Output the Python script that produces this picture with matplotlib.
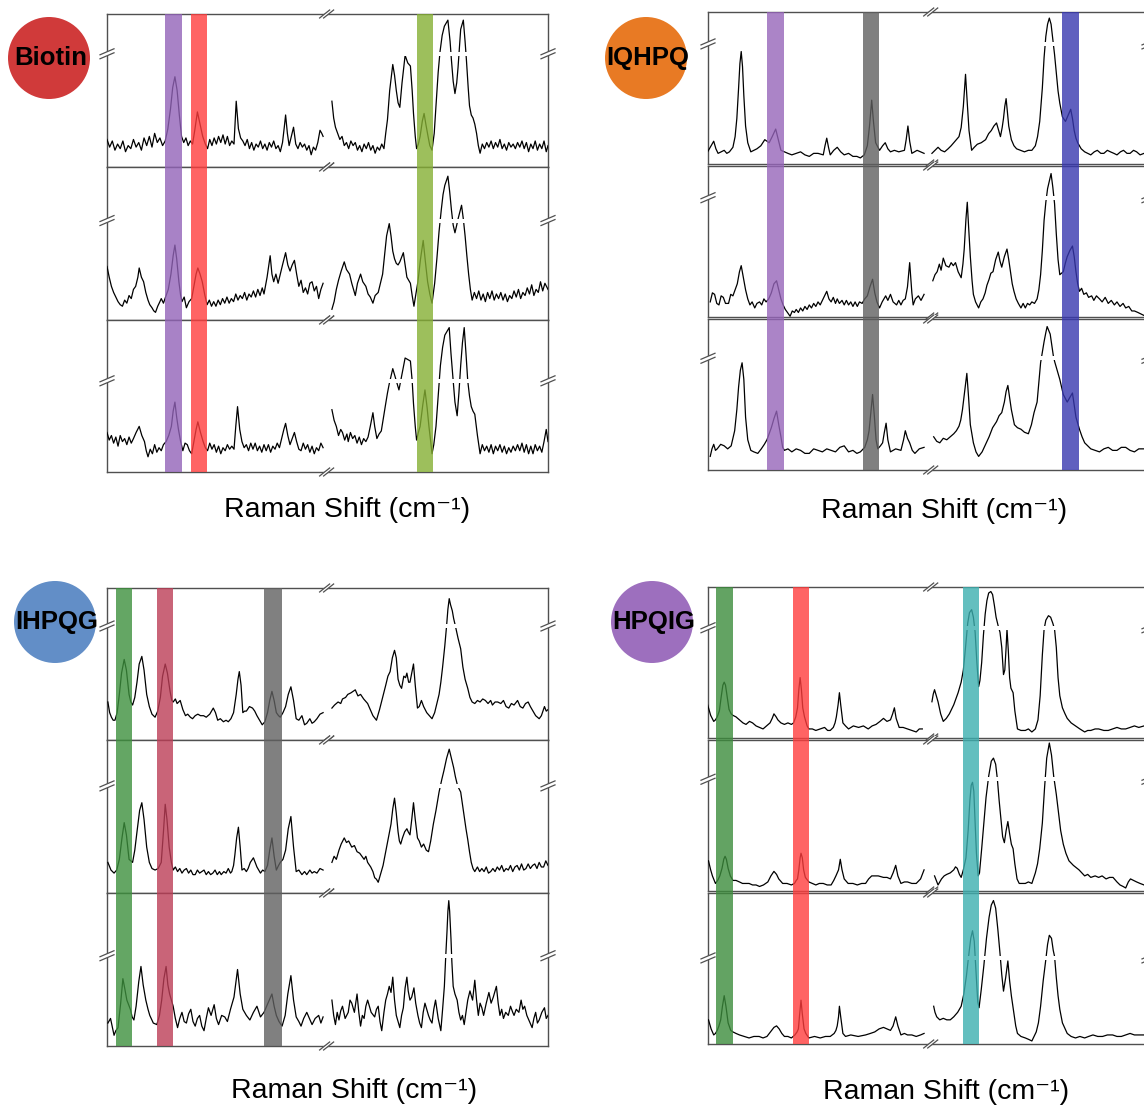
import matplotlib
matplotlib.use("Agg")
import matplotlib.pyplot as plt
import numpy as np
from matplotlib.patches import Ellipse, Rectangle

FIG_W, FIG_H = 1144, 1111

# spectra: (position across the box, intensity 0-100 of its row)
BIOTIN_TOP = [(0,18),(0.6,13),(1.2,17),(1.8,11),(2.4,15),(3,12),(3.6,17),(4.2,10),(4.8,14),(5.4,12),(6,18),(6.6,13),(7.2,16),(7.8,11),(8.4,19),(9,14),(9.6,20),(10.2,13),(10.8,22),(11.4,16),(12,19),(12.6,14),(13.2,17),
              (13.8,25),(14.4,38),(14.9,52),(15.4,59),(15.9,50),(16.4,34),(16.9,20),(17.4,16),(17.9,19),(18.4,14),(18.9,17),(19.4,15),(19.9,24),(20.5,36),(21.1,28),(21.7,20),(22.3,15),(22.8,12),
              (23.3,18),(23.8,14),(24.3,19),(24.8,15),(25.3,20),(25.8,16),(26.3,21),(26.8,15),(27.3,20),(27.8,14),(28.3,17),(28.8,15),(29.3,43),(29.8,25),(30.3,19),(30.8,17),(31.3,14),(31.8,18),(32.3,12),(32.8,16),(33.3,11),(33.8,15),(34.3,13),(34.8,17),(35.3,12),(35.8,15),(36.3,11),(36.8,16),(37.3,13),(37.8,17),(38.3,12),(38.8,14),(39.3,10),(39.8,16),
              (40.2,26),(40.5,34),(40.9,22),(41.3,14),(41.8,20),(42.3,26),(42.8,15),(43.3,12),(43.8,16),(44.3,13),(44.8,15),(45.3,11),(45.8,14),(46.3,8),(46.8,13),(47.3,11),(47.8,16),(48.3,24),(48.7,22),(49,20),
              (51,43),(51.4,32),(51.8,26),(52.3,22),(52.8,18),(53.3,20),(53.8,14),(54.3,16),(54.8,12),(55.3,17),(55.8,14),(56.3,16),(56.8,11),(57.3,14),(57.8,10),(58.3,15),(58.8,12),(59.3,16),(59.8,11),(60.3,14),(60.8,9),(61.3,13),(61.8,11),(62.3,15),(62.8,12),
              (63.2,22),(63.6,31),(64.1,50),(64.8,67),(65.2,60),(65.6,50),(66,42),(66.4,39),(66.9,55),(67.6,73),(68.2,68),(68.8,66),(69.2,50),(69.5,35),(69.9,20),(70.2,12),(70.6,15),(71,20),(71.5,30),(71.9,35),(72.3,28),(72.8,20),(73.2,14),(73.7,11),
              (74.2,22),(74.6,40),(75.1,62),(75.5,75),(76,86),(76.5,92),(77.3,96),(77.8,82),(78.1,70),(78.5,56),(78.9,48),(79.3,55),(79.6,65),(80.2,90),(80.8,96),(81.2,82),(81.5,70),(81.9,52),(82.2,40),(82.6,34),(83,32),(83.4,28),(83.8,22),(84.2,14),(84.6,9),
              (85.1,15),(85.6,12),(86.1,16),(86.6,13),(87.1,17),(87.6,12),(88.1,16),(88.6,13),(89.1,18),(89.6,12),(90.1,15),(90.6,11),(91.1,16),(91.6,13),(92.1,15),(92.6,12),(93.1,16),(93.6,13),(94.1,17),(94.6,12),(95.1,16),(95.6,10),(96.1,15),(96.6,12),(97.1,17),(97.6,11),(98.1,15),(98.6,12),(99.1,17),(99.6,10),(100,14)]
BIOTIN_MID = [(0,35),(0.5,28),(1,22),(1.5,18),(2,15),(2.5,12),(3,10),(3.5,9),(4,13),(4.5,11),(5,16),(5.5,14),(6,20),(6.5,22),(7,28),(7.3,34),(7.8,28),(8.3,25),(8.8,18),(9.3,13),(9.7,10),(10.2,8),(10.6,6),(11,5),(11.5,9),(12,12),(12.3,14),(12.8,11),(13.4,16),(13.9,20),(14.5,30),(15,42),(15.4,49),(15.8,40),(16.3,25),(16.7,16),(17,12),(17.5,15),(18,8),(18.6,12),(19.2,14),(19.7,22),(20.2,30),(20.6,34),(21.1,30),(21.6,25),(22.2,16),(22.7,10),
              (23.2,13),(23.7,9),(24.2,12),(24.7,9),(25.2,13),(25.7,10),(26.2,14),(26.7,11),(27.2,15),(27.7,11),(28.2,14),(28.7,12),(29.2,17),(29.7,13),(30.2,16),(30.7,14),(31.2,18),(31.7,13),(32.2,17),(32.7,15),(33.2,19),(33.7,15),(34.2,20),(34.7,16),(35.2,21),(35.6,17),(36.3,28),(37,42),(37.4,30),(37.8,25),(38.3,30),(38.8,24),(39.3,30),(39.8,36),(40.5,44),(41,36),(41.5,32),(42,36),(42.5,39),(43,30),(43.5,22),(44,26),(44.5,18),(45,21),(45.5,17),(46,24),(46.5,25),(47,19),(47.5,22),(48,14),(48.5,20),(49,24),
              (51,7),(51.5,12),(52,20),(52.5,26),(53.1,32),(53.8,38),(54.3,33),(55,30),(55.5,24),(56,19),(56.3,16),(56.8,24),(57.5,30),(58,25),(58.7,22),(59.2,17),(59.7,15),(60.3,11),(60.8,16),(61.5,18),(62,24),(62.5,30),(63,44),(63.4,55),(64,63),(64.4,55),(64.8,45),(65.2,40),(65.6,37),(66,36),(66.4,38),(67.2,44),(67.6,36),(68,28),(68.4,26),(68.8,24),(69.2,16),(69.6,9),(70.1,18),(70.5,25),(71.1,40),(71.7,52),(72.2,38),(72.7,25),(73.2,17),(73.7,11),
              (74.3,24),(74.8,40),(75.3,58),(75.8,72),(76.2,82),(76.6,88),(77.3,94),(77.7,84),(78.1,72),(78.5,62),(78.9,57),(79.3,62),(79.6,66),(80.4,75),(80.8,66),(81.2,55),(81.6,42),(82,30),(82.4,20),(82.8,13),
              (83.3,18),(83.8,14),(84.3,19),(84.8,13),(85.3,17),(85.8,12),(86.3,18),(86.8,14),(87.3,19),(87.8,13),(88.3,17),(88.8,14),(89.3,18),(89.8,13),(90.3,17),(90.8,12),(91.3,16),(91.8,14),(92.3,19),(92.8,15),(93.3,20),(93.8,14),(94.3,18),(94.8,16),(95.3,21),(95.8,17),(96.3,23),(96.8,16),(97.3,20),(97.8,18),(98.3,25),(98.8,19),(99.3,24),(100,20)]
BIOTIN_BOT = [(0,26),(0.5,21),(1,24),(1.5,19),(2,23),(2.5,17),(3,24),(3.5,20),(4,22),(4.5,18),(5,23),(5.5,19),(6,22),(6.6,26),(7.3,30),(7.9,24),(8.5,20),(8.9,14),(9.3,10),(9.8,15),(10.3,12),(10.8,18),(11.3,13),(11.8,16),(12.3,14),(12.8,18),(13.4,20),(14,24),(14.6,30),(15,40),(15.4,46),(15.8,36),(16.2,28),(16.7,20),(17.2,14),(17.7,19),(18.2,18),(18.7,14),(19.2,12),(19.7,20),(20.2,28),(20.6,33),(21.2,26),(21.8,20),(22.3,16),(22.8,14),
              (23.3,19),(23.8,15),(24.3,18),(24.8,13),(25.3,17),(25.8,12),(26.3,16),(26.8,14),(27.3,18),(27.8,15),(28.3,17),(28.8,15),(29.2,30),(29.6,43),(30.1,28),(30.6,20),(31.1,16),(31.6,18),(32.1,14),(32.6,19),(33.1,15),(33.6,19),(34.1,14),(34.6,17),(35.1,13),(35.6,18),(36.1,14),(36.6,18),(37.1,13),(37.6,17),(38.1,15),(38.6,19),(39.1,16),(39.6,22),(40.1,28),(40.5,32),(41,24),(41.5,18),(42,22),(42.5,26),(43,20),(43.5,15),(44,14),(44.5,19),(45,15),(45.5,18),(46,13),(46.5,17),(47,12),(47.5,16),(48,14),(48.5,19),(49,16),
              (51,41),(51.5,34),(52,30),(52.5,24),(53,28),(53.4,26),(53.9,21),(54.4,25),(54.7,20),(55.2,26),(55.7,22),(56.2,24),(56.7,19),(57.2,23),(57.7,18),(58.2,22),(58.7,20),(59.2,23),(59.7,30),(60.3,39),(60.7,30),(61.2,22),(61.7,25),(62.2,27),(62.7,36),(63.2,45),(63.6,52),(64,58),(64.8,68),(65.2,64),(65.6,60),(66.2,54),(66.6,60),(67,66),(67.6,75),(68.2,74),(68.8,73),(69.2,60),(69.5,45),(69.9,30),(70.2,21),(70.6,26),(71,30),(71.6,44),(72.1,54),(72.6,42),(73,30),(73.4,20),(73.7,12),
              (74.1,18),(74.6,30),(75.1,50),(75.6,70),(76.1,82),(76.6,90),(77.6,95),(78,78),(78.5,60),(78.9,46),(79.4,37),(79.8,52),(80.2,70),(80.6,85),(81,95),(81.4,78),(81.8,60),(82.2,50),(82.6,43),(83,40),(83.4,38),(84,24),(84.6,12),
              (85.1,18),(85.6,14),(86.1,17),(86.6,13),(87.1,18),(87.6,12),(88.1,17),(88.6,14),(89.1,18),(89.6,13),(90.1,17),(90.6,12),(91.1,16),(91.6,13),(92.1,17),(92.6,14),(93.1,18),(93.6,14),(94.1,19),(94.6,13),(95.1,18),(95.6,12),(96.1,17),(96.6,12),(97.1,18),(97.6,14),(98.1,17),(98.6,13),(99.1,20),(99.6,28),(100,20)]

IQHPQ_TOP = [(0.2,8),(1,12),(1.6,15),(2.1,10),(2.6,7),(3.3,8),(4,9),(4.6,7),(5.2,8),(6,11),(6.5,18),(6.9,30),(7.3,50),(7.6,66),(7.9,74),(8.2,64),(8.5,45),(8.9,25),(9.4,14),(10.1,8),(10.8,9),(11.5,10),(12.4,12),(13.3,16),(14.3,14),(15,18),(15.8,23),(16.4,16),(17,9),(17.8,8),(18.6,7),(19.5,6),(20.5,7),(21.5,8),(22.5,6),(23.5,5),(24.5,7),(25.5,7),(26.7,6),(27.1,12),(27.5,17),(27.9,11),(28.3,6),(29.1,9),(29.9,11),(30.7,8),(31.5,6),(32.5,7),(33.5,5),(34.4,5),(35.2,4),(36.1,6),(36.8,12),(37.3,25),(37.8,42),(38.2,28),(38.7,14),(39.6,9),(40.3,12),(40.9,14),(41.5,10),(42.1,8),(43,9),(44,8),(45.3,9),(45.7,16),(46.1,25),(46.5,15),(47,7),(48.2,9),(49,8),(49.8,7),
             (51.6,7),(52.3,9),(53,11),(53.7,9),(54.5,8),(55.3,10),(56,12),(56.9,15),(57.8,18),(58.3,24),(58.8,38),(59.3,59),(59.7,40),(60.1,22),(60.7,9),(61.3,11),(62,13),(62.9,14),(63.9,16),(64.6,20),(65.2,22),(65.8,25),(66.4,27),(66.9,22),(67.3,18),(67.7,24),(68,30),(68.3,38),(68.6,43),(68.9,34),(69.2,25),(69.8,16),(70.4,12),(71,10),(71.9,9),(72.8,8),(73.7,9),(74.5,9),(75.3,12),(75.8,18),(76.3,28),(76.9,50),(77.3,70),(77.7,84),(78.1,92),(78.5,96),(78.9,92),(79.3,82),(79.7,72),(80.1,60),(80.5,48),(80.9,40),(81.5,31),(82.2,28),(82.8,32),(83.4,36),(83.8,30),(84.2,22),(84.6,17),(85,14),(85.8,10),(86.6,8),(87.3,7),(88,6),(88.8,8),(89.5,9),(90.3,7),(91,7),(91.8,9),(92.5,8),(93.3,7),(94,6),(94.8,8),(95.5,9),(96.3,7),(97,7),(97.8,9),(98.5,8),(99.3,6),(100.2,7)]
IQHPQ_MID = [(0.8,10),(1.3,16),(1.8,15),(2.3,9),(2.8,8),(3.3,14),(3.8,13),(4.3,9),(5,9),(5.5,15),(6,14),(6.5,18),(7,22),(7.5,30),(7.9,34),(8.4,26),(8.9,18),(9.4,12),(9.9,8),(10.4,10),(11,6),(11.5,9),(12.1,10),(12.6,8),(13.1,12),(13.6,10),(14.2,12),(14.8,16),(15.4,22),(16,24),(16.5,18),(17,12),(17.5,8),(18,5),(18.5,3),(19.1,0.5),(19.6,4),(20.1,3),(20.5,5),(21,3),(21.5,6),(22,4),(22.5,7),(23,5),(23.5,8),(24,6),(24.5,9),(25,7),(25.5,10),(26,8),(26.5,11),(27,14),(27.5,17),(28,12),(28.5,10),(29,13),(29.5,9),(29.9,12),(30.4,9),(31,11),(31.5,8),(32,11),(32.5,8),(33,10),(33.5,7),(34,10),(34.5,7),(35,10),(35.6,9),(36.2,12),(36.8,14),(37.4,20),(38,25),(38.5,16),(39,10),(39.6,6),(40.2,10),(41,14),(41.5,11),(42.1,15),(42.7,10),(43.5,8),(44,11),(44.5,8),(45,11),(45.5,12),(46,20),(46.5,36),(47,16),(47.3,8),(47.8,12),(48.5,14),(49.1,11),(49.8,15),
             (51.8,24),(52.3,28),(52.8,30),(53.3,35),(53.7,31),(54.2,39),(54.8,34),(55.5,33),(56,36),(56.5,34),(57,36),(57.6,30),(58.3,26),(58.7,35),(59,45),(59.4,65),(59.7,76),(60,60),(60.4,40),(60.8,24),(61.1,15),(61.6,10),(62.3,6),(62.8,10),(63.3,12),(63.8,16),(64.2,21),(64.7,25),(65.1,29),(65.6,30),(66.2,38),(66.8,43),(67.2,37),(67.6,33),(68.2,40),(68.8,45),(69.2,38),(69.6,30),(70,22),(70.4,17),(70.9,12),(71.4,9),(72,6),(72.5,9),(73,6),(73.5,9),(74,8),(74.5,10),(75.1,9),(75.7,12),(76.1,18),(76.5,28),(76.9,44),(77.3,64),(77.7,76),(78.1,85),(78.9,95),(79.3,86),(79.7,75),(80.1,55),(80.5,38),(80.9,28),(81.3,29),(81.7,30),(82.2,36),(82.6,40),(83.2,44),(83.8,47),(84.2,40),(84.6,30),(85,22),(85.4,17),
             (85.9,19),(86.4,15),(87,16),(87.5,13),(88.2,14),(88.7,11),(89.3,14),(90,12),(90.6,10),(91.3,13),(92,9),(92.7,11),(93.4,8),(94,10),(94.7,7),(95.4,9),(96,6),(96.7,7),(97.4,4),(98,4),(98.8,3),(99.5,2),(100.2,1)]
IQHPQ_BOT = [(0.8,9),(1.2,14),(1.6,17),(2,13),(2.4,14),(3.2,17),(4,16),(4.8,14),(5.6,16),(6.4,26),(6.9,40),(7.3,55),(7.7,66),(8.1,71),(8.5,60),(8.9,35),(9.4,20),(10.1,13),(10.8,12),(11.7,11),(12.5,14),(13.2,17),(13.8,20),(14.3,24),(14.8,28),(15.4,34),(16,39),(16.5,30),(17,22),(17.4,15),(17.8,13),(18.6,14),(19.5,12),(20.5,14),(21.5,13),(22.5,11),(23.5,11),(24.5,14),(25.5,13),(26.5,12),(27.5,14),(28.5,13),(29.5,12),(30.5,15),(31.5,16),(32.5,12),(33.5,13),(34.4,11),(35.2,12),(36.2,15),(36.8,20),(37.2,26),(37.6,38),(38,50),(38.4,36),(38.8,20),(39.2,14),(39.8,16),(40.3,18),(40.7,25),(41.1,31),(41.5,20),(42.1,12),(43.3,14),(44.5,13),(45.1,20),(45.5,26),(46,21),(46.5,18),(47.1,13),(47.7,11),(48.7,14),(49.8,15),
             (52,22),(52.7,19),(53.4,18),(54.2,21),(55,20),(55.8,22),(56.6,24),(57.2,26),(57.8,29),(58.2,33),(58.6,40),(59.1,52),(59.6,64),(60,48),(60.4,30),(61.1,18),(61.7,12),(62.3,9),(63.1,12),(63.9,17),(64.7,22),(65.5,28),(66.4,32),(67,36),(67.6,38),(68.2,45),(68.6,52),(69,56),(69.4,48),(69.8,40),(70.5,30),(71.2,28),(72,27),(72.8,25),(73.7,24),(74.4,30),(75,38),(75.7,45),(76.1,58),(76.5,71),(76.9,78),(77.3,85),(77.7,91),(78,95),(78.7,90),(79.4,76),(79.7,72),(80.3,66),(80.9,60),(81.7,50),(82.6,45),(83.2,48),(83.8,51),(84.2,43),(84.6,35),(85.4,27),(86,22),(86.6,18),(87.3,16),(88,14),(89,13),(90,12),(91,14),(92,15),(93,13),(94,13),(95,15),(96,15),(97,13),(98,12),(99,14),(100.2,14)]

IHPQG_TOP = [(0.2,25),(0.6,18),(1,15),(1.4,13),(1.8,13),(2.3,18),(2.8,30),(3.3,44),(3.9,53),(4.4,46),(5,30),(5.4,25),(5.8,23),(6.3,28),(6.8,38),(7.3,50),(7.9,55),(8.4,46),(9,30),(9.6,22),(10.2,17),(10.9,15),(11.5,19),(12.1,28),(12.6,42),(13.2,50),(13.7,44),(14.3,32),(14.7,26),(15,25),(15.5,27),(15.9,24),(16.6,26),(17.2,20),(17.8,16),(18.3,17),(18.9,15),(19.4,14),(20,16),(20.6,17),(21.2,16),(21.9,16),(22.5,15),(23.3,17),(24.1,21),(24.6,18),(25.1,13),(25.7,14),(26.4,12),(27,13),(27.5,12),(28.1,14),(28.7,18),(29.3,30),(29.7,40),(30,45),(30.4,36),(30.8,18),(31.2,19),(31.6,19),(32.3,22),(33,21),(33.5,19),(34,16),(34.6,13),(35.2,10),(35.8,12),(36.4,18),(36.9,26),(37.4,32),(37.9,26),(38.4,18),(38.9,16),(39.3,15),(39.9,18),(40.5,22),(41.1,30),(41.7,35),(42.3,26),(42.9,14),(43.5,13),(44.2,16),(44.8,10),(45.3,11),(46,14),(46.5,11),(47,12),(47.6,14),(48.3,17),(49,18),
             (51,21),(51.6,23),(52.4,25),(53,24),(53.4,27),(54.1,28),(54.6,30),(55.3,31),(56.3,33),(56.9,29),(57.5,30),(58.2,27),(59.1,24),(59.7,20),(60.3,16),(61.1,13),(61.8,20),(62.5,28),(63.2,36),(63.7,42),(64.2,45),(64.7,54),(65.2,59),(65.6,54),(66,40),(66.4,36),(66.8,34),(67.3,42),(67.7,41),(68,44),(68.4,38),(68.7,38),(69.1,44),(69.5,50),(69.9,36),(70.4,21),(70.8,22),(71.3,26),(71.8,22),(72.5,18),(73.1,16),(73.7,14),(74.3,18),(74.8,24),(75.3,30),(75.7,38),(76.1,48),(76.6,62),(77,75),(77.3,86),(77.6,93),(77.9,89),(78.3,85),(78.6,80),(79,75),(79.6,67),(80.2,60),(80.7,48),(81.2,40),(81.8,34),(82.3,28),(82.8,25),(83.4,24),(84,26),(84.6,25),(85.2,27),(85.8,26),(86.4,24),(87,26),(87.4,23),(88,25),(88.6,25),(89.3,24),(89.9,26),(90.5,22),(91.1,21),(91.7,24),(92.3,23),(93.1,26),(93.7,22),(94.3,21),(94.9,24),(95.5,25),(96,22),(96.6,19),(97.2,16),(97.6,15),(98,14),(98.5,16),(99.2,22),(99.6,19),(100,20)]
IHPQG_MID = [(0.2,20),(0.9,15),(1.6,13),(2.2,15),(2.8,22),(3.4,36),(3.9,46),(4.4,38),(5,22),(5.8,20),(6.3,28),(6.8,40),(7.4,54),(7.9,59),(8.4,48),(9,30),(9.6,20),(10.2,16),(10.9,15),(11.6,16),(12.3,20),(12.8,40),(13.2,58),(13.6,48),(14.1,30),(14.6,20),(15,15),(15.5,17),(16,14),(16.5,16),(17,13),(17.5,15),(18,16),(18.5,13),(19,15),(19.5,12),(20,12),(20.5,15),(21,13),(21.5,14),(22,15),(22.5,12),(23,14),(23.5,12),(24,13),(24.5,15),(25,12),(25.5,14),(25.9,12),(26.5,14),(27,13),(27.5,16),(28,13),(28.3,14),(28.7,18),(29,25),(29.4,36),(29.8,43),(30.2,30),(30.6,15),(31.1,16),(31.6,14),(32,16),(32.5,20),(33.2,23),(34,17),(34.8,13),(35.3,15),(35.8,14),(36.4,18),(36.9,28),(37.4,36),(37.9,24),(38.4,15),(38.9,18),(39.3,20),(39.9,22),(40.5,28),(41.1,42),(41.7,50),(42.3,30),(42.9,14),(43.5,15),(44.2,12),(44.8,14),(45.3,12),(46,15),(46.5,13),(47,14),(47.6,13),(48.3,16),(49,15),
             (51,20),(51.5,24),(52,22),(52.6,28),(53.1,32),(53.8,36),(54.3,33),(54.8,34),(55.5,30),(56.1,31),(56.7,27),(57.3,26),(57.8,24),(58.3,22),(58.7,24),(59.1,20),(59.8,17),(60.3,14),(60.7,10),(61.1,9),(61.5,7),(62,12),(62.6,18),(63.2,27),(63.8,36),(64.4,45),(64.8,55),(65.2,62),(65.6,52),(66,40),(66.3,34),(66.6,32),(67,36),(67.5,40),(68,42),(68.3,40),(68.7,38),(69.1,48),(69.5,59),(69.9,48),(70.4,36),(70.8,34),(71.3,30),(71.8,32),(72.4,28),(72.9,27),(73.4,34),(74,45),(74.6,54),(75.3,66),(75.9,74),(76.4,80),(77,88),(77.6,94),(78.1,88),(78.6,82),(79,76),(79.5,70),(80.2,66),(80.6,58),(81,50),(81.4,42),(81.8,35),(82.2,27),(82.6,20),(83,16),(83.4,14),(84,17),(84.5,14),(85,16),(85.5,14),(86,17),(86.5,13),(87,14),(87.5,16),(88,14),(88.5,17),(89,15),(89.5,18),(90,14),(90.5,16),(91,15),(91.5,18),(92,14),(92.5,17),(93,18),(93.5,15),(94,19),(94.5,15),(95,16),(95.5,19),(96,16),(96.5,18),(97,19),(97.5,16),(98,20),(98.5,17),(99,17),(99.5,21),(100,18)]
IHPQG_BOT = [(0.2,15),(0.8,18),(1.6,7),(2,10),(2.5,12),(3.1,28),(3.6,44),(4,38),(4.5,30),(5.3,24),(5.7,19),(6.1,17),(6.6,26),(7.2,42),(7.7,52),(8.2,40),(8.8,30),(9.3,24),(9.7,20),(10.5,15),(11.3,14),(11.9,20),(12.4,30),(12.9,44),(13.4,52),(13.8,40),(14.2,34),(14.6,30),(15,26),(15.5,18),(16,12),(16.5,18),(17,22),(17.5,16),(18,15),(18.5,21),(19,24),(19.5,16),(20,13),(20.5,18),(21,20),(21.5,13),(22,10),(22.5,18),(23,25),(23.6,20),(24.3,27),(24.8,18),(25.3,14),(26,20),(26.7,19),(27.3,16),(28,24),(28.8,32),(29.6,50),(30.2,34),(30.8,24),(31.6,20),(32.4,17),(33.2,22),(34,26),(34.8,19),(35.6,22),(36.5,28),(37.4,34),(37.9,26),(38.4,20),(39,16),(39.7,13),(40.4,20),(41,34),(41.7,46),(42.3,30),(42.9,19),(43.5,16),(44,13),(44.6,18),(45.3,22),(45.9,18),(46.5,14),(47.2,18),(48,20),(48.5,15),(49,19),
             (51,30),(51.4,20),(51.8,14),(52.2,22),(52.6,17),(53,23),(53.4,26),(54,18),(54.7,22),(55.1,30),(55.5,28),(56.1,22),(56.7,34),(57.1,22),(57.5,13),(57.9,20),(58.3,18),(58.7,26),(59.1,30),(59.9,22),(60.7,19),(61.1,24),(61.5,26),(61.9,16),(62.3,10),(62.8,22),(63.2,30),(63.6,34),(64,39),(64.4,35),(64.8,45),(65.2,30),(65.6,20),(66,16),(66.4,12),(66.8,20),(67.2,25),(67.6,38),(68,45),(68.3,36),(68.7,30),(69.1,32),(69.6,38),(70,28),(70.5,20),(70.9,15),(71.3,12),(71.7,22),(72.1,28),(72.5,24),(72.9,20),(73.3,17),(73.7,15),(74.1,24),(74.5,30),(75.1,18),(75.7,10),(76.1,24),(76.5,39),(76.8,58),(77.1,75),(77.3,88),(77.5,95),(77.7,88),(78,70),(78.2,55),(78.5,39),(78.9,34),(79.4,30),(79.8,22),(80.2,17),(80.6,20),(81,14),(81.4,22),(81.8,30),(82.3,36),(82.9,30),(83.4,43),(83.8,30),(84.2,20),(84.6,28),(85,25),(85.4,20),(86,28),(86.6,35),(87.1,28),(87.6,32),(88.3,39),(88.7,28),(89.1,20),(89.5,24),(89.9,18),(90.4,22),(91,20),(91.5,26),(92,22),(92.3,20),(92.8,24),(93.4,22),(93.9,30),(94.3,24),(94.7,26),(95.2,20),(95.8,16),(96.4,12),(96.8,18),(97.2,22),(97.6,15),(98,17),(98.6,22),(99.2,25),(99.6,18),(100,20)]

HPQIG_TOP = [(0.2,22),(0.9,15),(1.6,11),(2,12),(2.4,14),(2.9,18),(3.3,27),(3.7,35),(4,37),(4.3,35),(4.7,27),(5.1,19),(5.6,16),(6,15),(6.7,14),(7.5,12),(8.3,10),(9,9),(9.8,11),(10.5,10),(11.3,8),(12.1,7),(12.9,6),(13.7,8),(14.5,10),(15,13),(15.4,16),(15.9,14),(16.3,12),(17,10),(17.8,9),(18.6,10),(19.4,9),(19.9,10),(20.4,14),(20.8,20),(21.1,32),(21.4,40),(21.7,32),(22,20),(22.4,14),(23,8),(23.4,6),(24.2,6),(25,5),(26,6),(27,7),(27.7,5),(28.3,5),(29,7),(29.4,10),(29.7,14),(30.1,22),(30.4,30),(30.7,22),(31.2,10),(31.8,8),(32.5,6),(33.6,8),(34.8,7),(35.9,8),(37,6),(37.9,8),(38.8,9),(39.7,11),(40.5,13),(41.3,11),(42.1,12),(42.6,16),(43,20),(43.4,13),(44.1,7),(45,7),(46,6),(47,5),(48,4),(48.7,6),(49.4,6),
             (51.6,24),(51.9,29),(52.2,32),(52.6,28),(53,24),(53.6,16),(54.2,11),(54.9,13),(55.6,16),(56.1,19),(56.6,22),(57.1,26),(57.6,30),(58.3,37),(58.8,45),(59.3,60),(59.8,76),(60.2,83),(60.7,85),(61.1,80),(61.5,70),(61.9,50),(62.3,34),(62.6,38),(63,50),(63.4,68),(63.8,82),(64.2,91),(64.6,96),(65.1,97),(65.5,95),(65.9,88),(66.3,80),(66.8,74),(67.2,70),(67.6,60),(68,42),(68.3,45),(68.6,60),(68.8,72),(69.1,58),(69.4,40),(69.7,33),(70.2,30),(70.6,18),(71.2,6),(72,5),(73,5),(73.7,6),(74.5,4),(75.3,6),(75.9,12),(76.4,28),(76.9,55),(77.3,72),(77.7,78),(78.3,81),(78.8,80),(79.3,76),(79.7,72),(80.1,60),(80.5,40),(80.9,28),(81.5,20),(82.1,16),(82.6,13),(83.5,10),(84.5,8),(85.5,6),(86.6,4),(87.3,5),(88,5),(89,6),(89.8,6),(91,5),(92,5),(93,6),(94,7),(95,6),(96,6),(97,7),(98,8),(99,7),(100.2,8)]
HPQIG_MID = [(0.4,20),(0.9,14),(1.3,10),(2,5),(2.5,7),(3,10),(3.5,15),(3.9,21),(4.2,23),(4.5,21),(4.9,15),(5.4,10),(6,7),(6.7,7),(7.5,6),(8.2,5),(8.9,5),(9.7,5),(10.5,4),(11.3,4),(12.1,3),(13,4),(14,6),(14.7,10),(15.4,13),(16,11),(16.5,8),(17.4,5),(18.4,5),(19.4,4),(20.1,5),(20.5,7),(20.8,8),(21.1,14),(21.4,22),(21.6,25),(21.9,22),(22.2,14),(22.6,9),(23.4,6),(24.2,5),(25,4),(25.8,5),(26.7,5),(27.6,4),(28.5,4),(29.1,7),(29.6,10),(30.2,14),(30.6,21),(31,14),(31.5,8),(32.4,5),(33.5,5),(34.5,4),(35.5,5),(36.4,5),(37.1,8),(37.8,10),(38.5,10),(39.3,10),(40.5,9),(41.3,9),(42.1,8),(42.7,12),(43.3,17),(43.8,10),(44.5,5),(45.3,6),(46,6),(47,5),(48,5),(49,8),(49.8,14),
             (52.2,10),(53,4),(53.8,8),(54.4,10),(55,11),(55.8,12),(56.6,14),(57,16),(57.4,15),(57.9,11),(58.3,9),(58.8,14),(59.4,22),(59.9,40),(60.3,60),(60.6,70),(60.9,72),(61.2,66),(61.5,45),(61.8,25),(62.2,10),(62.5,12),(63,28),(63.5,45),(64,62),(64.6,76),(65.2,86),(65.7,88),(66.2,84),(66.6,74),(67,60),(67.4,48),(67.8,36),(68.2,32),(68.6,40),(69,46),(69.4,38),(69.8,31),(70.2,28),(70.6,18),(71.1,8),(71.6,5),(72.3,5),(73,5),(73.7,6),(74.5,5),(75.3,12),(75.8,18),(76.3,28),(76.9,45),(77.4,68),(77.9,88),(78.5,98),(79,90),(79.5,76),(80.1,64),(80.6,52),(81.1,40),(81.7,31),(82.3,25),(83,20),(84,17),(85.3,14),(86.6,10),(87.3,11),(88,9),(89,10),(89.8,9),(90.6,10),(91.5,8),(92.3,9),(93.1,9),(94,6),(94.7,4),(95.4,3),(96,2),(96.6,6),(97.1,8),(97.8,7),(98.5,6),(99.3,5),(100.2,4)]
HPQIG_BOT = [(0.4,16),(1,10),(1.6,6),(2,7),(2.4,9),(2.8,12),(3.2,16),(3.6,25),(4,32),(4.4,25),(4.9,14),(5.5,9),(6,8),(6.7,7),(7.5,6),(8.6,5),(9.7,4),(10.8,5),(12,5),(12.9,4),(13.8,5),(14.6,8),(15.4,11),(16,12),(16.6,10),(17.2,7),(17.8,5),(18.6,5),(19.4,4),(20.2,6),(20.7,8),(21,10),(21.3,20),(21.6,29),(21.9,20),(22.3,10),(22.7,7),(23.4,4),(24.7,5),(26,4),(27.2,5),(28.3,5),(29.2,7),(29.6,9),(29.9,12),(30.2,18),(30.4,25),(30.7,18),(31.2,7),(31.8,5),(33,6),(34.7,5),(36.4,6),(37.5,7),(38.5,8),(39.5,10),(40.5,11),(41.3,10),(42.1,9),(42.7,12),(43.3,18),(43.8,12),(44.5,6),(45.3,7),(46,6),(47,6),(48,5),(49,6),(49.8,7),
             (52,25),(52.3,21),(52.7,18),(53.4,16),(54.2,17),(55,16),(55.8,16),(56.6,18),(57.5,21),(58.3,25),(58.9,33),(59.5,45),(60,58),(60.5,70),(60.9,75),(61.3,68),(61.7,48),(62.1,28),(62.4,24),(62.9,36),(63.5,52),(64.1,70),(64.7,84),(65.2,92),(65.7,95),(66.2,90),(66.7,76),(67.2,60),(67.6,46),(68,35),(68.5,44),(69,55),(69.4,42),(69.8,32),(70.3,22),(70.8,12),(71.2,7),(72,5),(73,4),(73.8,3),(74.5,2),(75,5),(75.5,8),(76,14),(76.5,25),(77.1,42),(77.7,56),(78.1,66),(78.5,72),(79,70),(79.4,62),(79.7,58),(80.1,44),(80.5,32),(80.9,23),(81.5,14),(82.6,7),(83.5,5),(84.5,4),(85.5,5),(86.6,4),(87.5,5),(88.5,6),(89.6,5),(90.7,5),(91.8,6),(93,6),(94,5),(95,5),(96,6),(97,7),(98,6),(99,6),(100.2,6)]

# axis break height (fraction of each row)
BIOTIN_YBREAKS = [0.74, 0.65, 0.60]
IQHPQ_YBREAKS = [0.79, 0.79, 0.74]
IHPQG_YBREAKS = [0.75, 0.70, 0.59]
HPQIG_YBREAKS = [0.73, 0.74, 0.57]

# highlighted bands (start, end, colour)
BIOTIN_BANDS = [(13.2, 17.0, "#9263b8"), (19.0, 22.7, "#ff3d3d"), (70.3, 74.0, "#85af33")]
IQHPQ_BANDS = [(13.9, 17.8, "#9665ba"), (35.7, 39.5, "#606060"), (81.4, 85.2, "#3838b0")]
IHPQG_BANDS = [(2.0, 5.7, "#3d903d"), (11.3, 15.0, "#bc3d56"), (35.6, 39.6, "#606060")]
HPQIG_BANDS = [(2.2, 6.0, "#3c8c3c"), (19.7, 23.4, "#ff3d3d"), (58.7, 62.5, "#3cb0b0")]

LABELS = ["Biotin", "IQHPQ", "IHPQG", "HPQIG"]
LABEL_COLORS = ["#d03a3a", "#e87a24", "#628ec7", "#9d6fbe"]
XLABEL = "Raman Shift (cm\u207b\u00b9)"

plt.rcParams["font.family"] = ["Liberation Sans", "DejaVu Sans"]

SPINE_COLOR = "#505050"
LEFT_XLIM = (0, 100)
RIGHT_XLIM = (0.29, 101.34)


def px_axes(fig, x0, y0, x1, y1):
    return fig.add_axes([x0 / FIG_W, 1 - y1 / FIG_H, (x1 - x0) / FIG_W, (y1 - y0) / FIG_H])


def _mark(ax, pts_a, pts_b):
    # two parallel strokes with white between them (axis break)
    poly = np.array([pts_a[0], pts_a[1], pts_b[1], pts_b[0]])
    ax.fill(poly[:, 0], poly[:, 1], color="white", transform=ax.transAxes, clip_on=False, zorder=5, lw=0)
    for p in (pts_a, pts_b):
        ax.plot([p[0][0], p[1][0]], [p[0][1], p[1][1]], color=SPINE_COLOR, lw=0.9,
                transform=ax.transAxes, clip_on=False, zorder=6)


def draw_row(ax, spectrum, ybreak, xbreak, hbreak, xlim, w, h):
    ax.set_xlim(*xlim)
    ax.set_ylim(0, 100)
    ax.set_xticks([])
    ax.set_yticks([])
    for s in ax.spines.values():
        s.set_color(SPINE_COLOR)
        s.set_linewidth(1.0)
    x, y = np.array(spectrum).T
    gap = 2.0 / h
    for seg in (x < xbreak, x > xbreak):
        for y0, y1 in ((-0.2, ybreak - gap), (ybreak + gap, 1.2)):
            ln, = ax.plot(x[seg], y[seg], color="black", lw=0.9, zorder=3)
            ln.set_clip_path(Rectangle((0, y0), 1, y1 - y0, transform=ax.transAxes))
    # y breaks on both side spines
    dx, dy = 7.0 / w, 3.0 / h
    for sx in (0, 1):
        _mark(ax, [(sx - dx, ybreak - gap - dy), (sx + dx, ybreak - gap + dy)],
              [(sx - dx, ybreak + gap - dy), (sx + dx, ybreak + gap + dy)])
    # x breaks on top and bottom
    dx, dy, sep = 5.0 / w, 4.0 / h, 4.0 / w
    for sy in (0, 1):
        _mark(ax, [(hbreak - sep / 2 - dx, sy - dy), (hbreak - sep / 2 + dx, sy + dy)],
              [(hbreak + sep / 2 - dx, sy - dy), (hbreak + sep / 2 + dx, sy + dy)])


def draw_panel(fig, x0, x1, rows, spectra, ybreaks, bands, xbreak, hbreak, xlim,
               label, color, circle_xy, xlabel_xy):
    w = x1 - x0
    for (r0, r1), spectrum, yb in zip(rows, spectra, ybreaks):
        ax = px_axes(fig, x0, r0, x1, r1)
        draw_row(ax, spectrum, yb, xbreak, hbreak, xlim, w, r1 - r0)
    over = px_axes(fig, x0, rows[0][0], x1, rows[-1][1])
    over.set_zorder(10)
    over.patch.set_visible(False)
    over.axis("off")
    over.set_xlim(*xlim)
    over.set_ylim(0, 1)
    for lo, hi, c in bands:
        over.axvspan(lo, hi, color=c, alpha=0.8, lw=0)

    cx, cy = circle_xy
    r = 41
    fig.add_artist(Ellipse((cx / FIG_W, 1 - cy / FIG_H), 2 * r / FIG_W, 2 * r / FIG_H,
                           transform=fig.transFigure, color=color, lw=0))
    fig.text(cx / FIG_W + 2 / FIG_W, 1 - cy / FIG_H, label, ha="center", va="center",
             fontsize=18.5, fontweight="bold", color="black")
    fig.text(xlabel_xy[0] / FIG_W, 1 - xlabel_xy[1] / FIG_H, XLABEL,
             ha="center", va="center", fontsize=20.5, color="black")


def main():
    fig = plt.figure(figsize=(FIG_W / 100, FIG_H / 100), dpi=100)
    draw_panel(fig, 107, 548, [(14, 167), (167, 320), (320, 472)],
               [BIOTIN_TOP, BIOTIN_MID, BIOTIN_BOT], BIOTIN_YBREAKS, BIOTIN_BANDS,
               50, 0.498, LEFT_XLIM, LABELS[0], LABEL_COLORS[0], (49, 58), (347, 510))
    draw_panel(fig, 708, 1149, [(12, 164), (166, 317), (319, 470)],
               [IQHPQ_TOP, IQHPQ_MID, IQHPQ_BOT], IQHPQ_YBREAKS, IQHPQ_BANDS,
               50.7, 0.505, RIGHT_XLIM, LABELS[1], LABEL_COLORS[1], (646, 58), (944, 511))
    draw_panel(fig, 107, 548, [(588, 740), (740, 893), (893, 1046)],
               [IHPQG_TOP, IHPQG_MID, IHPQG_BOT], IHPQG_YBREAKS, IHPQG_BANDS,
               50, 0.498, LEFT_XLIM, LABELS[2], LABEL_COLORS[2], (55, 622), (354, 1091))
    draw_panel(fig, 708, 1149, [(587, 738), (740, 891), (893, 1044)],
               [HPQIG_TOP, HPQIG_MID, HPQIG_BOT], HPQIG_YBREAKS, HPQIG_BANDS,
               50.7, 0.505, RIGHT_XLIM, LABELS[3], LABEL_COLORS[3], (652, 622), (946, 1092))
    fig.savefig("out.png", dpi=100)


if __name__ == "__main__":
    main()
